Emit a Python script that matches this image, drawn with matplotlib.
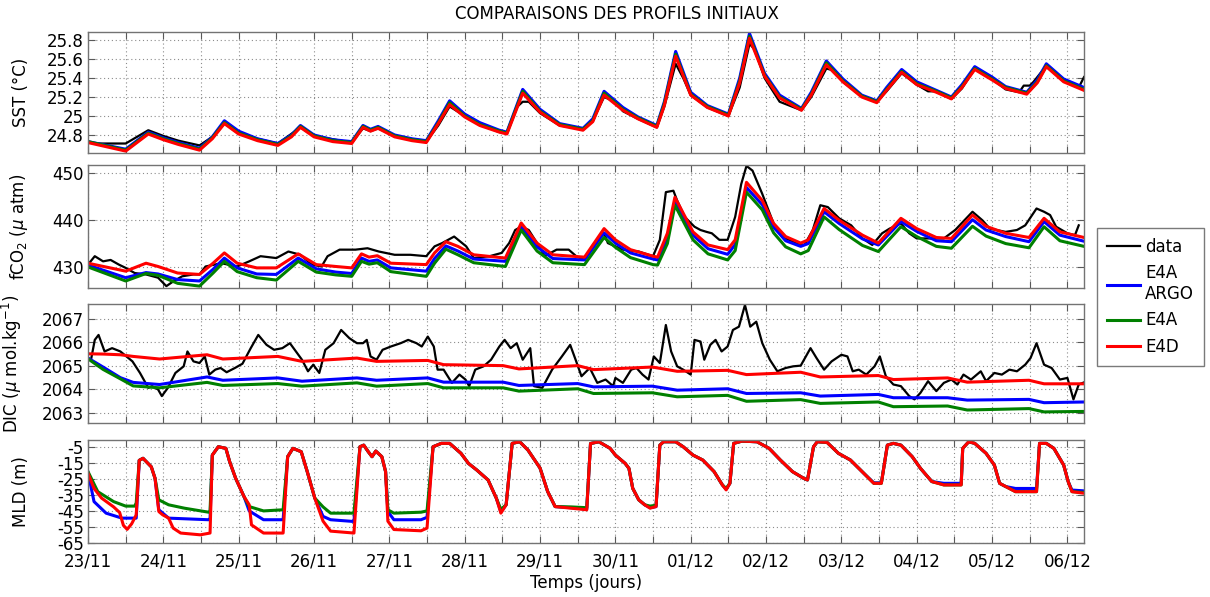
import numpy as np
import matplotlib.pyplot as plt

plt.rcParams['font.family'] = ['DejaVu Sans']
plt.rcParams['mathtext.fontset'] = 'dejavusans'

# ---- time axis (days since 23/11 00:00) ----
day_labels = ['23/11', '24/11', '25/11', '26/11', '27/11', '28/11', '29/11',
              '30/11', '01/12', '02/12', '03/12', '04/12', '05/12', '06/12']

# ---- SST (deg C) ----
sst_model_days = [0, 0.5, 0.8, 1.0, 1.2, 1.48, 1.65, 1.81, 2.0, 2.25,
                  2.52, 2.7, 2.82, 3.0, 3.25, 3.5, 3.65, 3.75, 3.85, 4.07,
                  4.3, 4.49, 4.65, 4.8, 5.0, 5.2, 5.46, 5.56, 5.77, 6.0,
                  6.26, 6.57, 6.7, 6.85, 7.1, 7.3, 7.55, 7.65, 7.8, 8.0,
                  8.22, 8.5, 8.65, 8.78, 8.98, 9.18, 9.47, 9.6, 9.8, 10.02,
                  10.27, 10.47, 10.6, 10.8, 11.0, 11.26, 11.46, 11.6, 11.77, 12.0,
                  12.18, 12.46, 12.6, 12.72, 12.95, 13.22]
sst_argo = [24.73, 24.65, 24.83, 24.77, 24.72, 24.66, 24.78, 24.95, 24.84, 24.76,
            24.71, 24.80, 24.90, 24.80, 24.75, 24.73, 24.90, 24.86, 24.89, 24.80,
            24.76, 24.74, 24.95, 25.16, 25.02, 24.93, 24.85, 24.83, 25.28, 25.07,
            24.92, 24.87, 24.97, 25.26, 25.09, 24.99, 24.90, 25.15, 25.68, 25.25,
            25.11, 25.02, 25.40, 25.87, 25.45, 25.22, 25.08, 25.25, 25.58, 25.39,
            25.22, 25.16, 25.30, 25.49, 25.36, 25.27, 25.20, 25.33, 25.52, 25.41,
            25.31, 25.25, 25.38, 25.55, 25.39, 25.30]
sst_e4a = [24.73, 24.64, 24.82, 24.76, 24.71, 24.65, 24.77, 24.93, 24.82, 24.75,
           24.70, 24.79, 24.89, 24.79, 24.74, 24.72, 24.89, 24.85, 24.88, 24.79,
           24.75, 24.73, 24.93, 25.14, 25.00, 24.91, 24.84, 24.82, 25.26, 25.05,
           24.91, 24.86, 24.95, 25.24, 25.07, 24.98, 24.89, 25.13, 25.65, 25.23,
           25.10, 25.01, 25.37, 25.84, 25.43, 25.20, 25.07, 25.23, 25.56, 25.37,
           25.21, 25.15, 25.28, 25.47, 25.34, 25.26, 25.19, 25.31, 25.50, 25.39,
           25.30, 25.24, 25.36, 25.53, 25.37, 25.28]
sst_e4d = [24.72, 24.63, 24.81, 24.75, 24.70, 24.64, 24.76, 24.92, 24.81, 24.74,
           24.69, 24.78, 24.88, 24.78, 24.73, 24.71, 24.88, 24.84, 24.87, 24.78,
           24.74, 24.72, 24.92, 25.12, 24.99, 24.90, 24.83, 24.81, 25.24, 25.04,
           24.90, 24.85, 24.94, 25.22, 25.06, 24.97, 24.88, 25.11, 25.63, 25.22,
           25.09, 25.00, 25.35, 25.82, 25.42, 25.19, 25.06, 25.22, 25.54, 25.36,
           25.20, 25.14, 25.27, 25.46, 25.33, 25.25, 25.18, 25.30, 25.49, 25.38,
           25.29, 25.23, 25.35, 25.52, 25.36, 25.27]
sst_data = [(0, 24.73), (0.1, 24.71), (0.5, 24.71), (0.65, 24.78), (0.8, 24.85),
            (1.0, 24.79), (1.2, 24.74), (1.48, 24.69), (1.65, 24.78), (1.81, 24.93),
            (2.0, 24.83), (2.25, 24.76), (2.52, 24.71), (2.82, 24.88), (3.0, 24.79),
            (3.5, 24.72), (3.65, 24.87), (3.75, 24.84), (3.85, 24.87), (4.07, 24.79),
            (4.49, 24.73), (4.65, 24.90), (4.8, 25.10), (5.0, 25.00), (5.2, 24.91),
            (5.46, 24.83), (5.56, 24.82), (5.7, 25.10), (5.77, 25.15), (5.85, 25.15),
            (6.0, 25.03), (6.26, 24.90), (6.57, 24.86), (6.7, 24.95), (6.85, 25.20),
            (7.0, 25.15), (7.1, 25.05), (7.3, 24.97), (7.55, 24.88), (7.65, 25.10),
            (7.8, 25.55), (7.9, 25.40), (8.0, 25.22), (8.22, 25.09), (8.5, 25.00),
            (8.65, 25.30), (8.78, 25.76), (8.85, 25.70), (8.98, 25.40), (9.18, 25.15),
            (9.47, 25.06), (9.6, 25.20), (9.8, 25.50), (9.9, 25.48), (10.02, 25.36),
            (10.27, 25.21), (10.47, 25.15), (10.6, 25.26), (10.8, 25.45), (11.0, 25.33),
            (11.15, 25.26), (11.26, 25.26), (11.46, 25.18), (11.6, 25.29), (11.77, 25.50),
            (12.0, 25.39), (12.18, 25.28), (12.36, 25.25), (12.42, 25.32), (12.5, 25.32),
            (12.55, 25.36), (12.72, 25.53), (12.95, 25.38), (13.15, 25.30), (13.22, 25.41)]

# ---- fCO2 (uatm) ----
fco2_model_days = [0, 0.5, 0.77, 0.93, 1.19, 1.48, 1.66, 1.81, 1.98, 2.24,
                   2.5, 2.79, 3.03, 3.29, 3.5, 3.63, 3.73, 3.84, 4.02, 4.49,
                   4.6, 4.75, 4.91, 5.12, 5.54, 5.75, 5.96, 6.17, 6.59, 6.85,
                   7.0, 7.2, 7.5, 7.56, 7.69, 7.79, 8.03, 8.23, 8.49, 8.59,
                   8.74, 8.95, 9.1, 9.26, 9.46, 9.56, 9.77, 9.97, 10.28, 10.49,
                   10.79, 11.0, 11.26, 11.46, 11.74, 11.92, 12.18, 12.49, 12.69, 12.9,
                   13.22]
fco2_argo = [430.4, 427.7, 428.8, 428.5, 427.3, 427.0, 429.5, 431.9, 429.8, 428.5,
             428.4, 431.9, 429.6, 428.9, 428.6, 431.9, 431.2, 431.5, 429.8, 429.1,
             431.8, 434.5, 433.4, 431.7, 431.2, 438.7, 434.3, 431.8, 431.5, 437.3,
             435.1, 433.0, 431.7, 431.5, 436.0, 443.9, 436.8, 433.9, 432.7, 434.8,
             447.0, 443.3, 438.5, 435.6, 434.4, 435.0, 441.8, 439.3, 436.0, 434.7,
             439.7, 437.6, 435.6, 435.4, 440.1, 437.9, 436.5, 435.4, 439.7, 436.8,
             435.5]
fco2_e4a = [430.0, 427.0, 428.6, 428.2, 426.5, 425.9, 428.7, 431.2, 429.0, 427.7,
            427.2, 431.2, 428.9, 428.3, 428.0, 431.2, 430.6, 430.9, 429.0, 428.0,
            430.8, 433.8, 432.6, 430.9, 430.1, 437.9, 433.4, 430.9, 430.5, 436.3,
            434.2, 432.0, 430.5, 430.4, 435.0, 443.2, 435.8, 432.8, 431.5, 433.5,
            446.0, 442.2, 437.3, 434.3, 432.8, 433.5, 440.7, 438.0, 434.6, 433.3,
            438.6, 436.5, 434.4, 434.0, 438.7, 436.6, 435.0, 434.1, 438.6, 435.6,
            434.4]
fco2_e4d = [430.8, 429.1, 430.8, 430.1, 428.7, 428.4, 430.8, 433.0, 430.8, 429.8,
            429.8, 432.8, 430.5, 430.1, 429.8, 432.8, 432.1, 432.4, 430.8, 430.5,
            433.0, 435.4, 434.4, 432.6, 431.9, 439.4, 435.1, 432.6, 432.1, 438.2,
            435.8, 433.7, 432.3, 432.1, 437.2, 444.9, 437.5, 434.7, 433.7, 435.8,
            448.1, 444.2, 439.3, 436.5, 435.1, 435.8, 442.5, 440.0, 436.8, 435.1,
            440.4, 438.2, 436.3, 436.1, 441.1, 438.7, 437.2, 436.3, 440.4, 437.5,
            436.3]
fco2_data = [(0.0, 430.5), (0.09, 432.3), (0.2, 431.2), (0.3, 431.5), (0.41, 430.5),
             (0.5, 429.8), (0.62, 428.7), (0.77, 428.4), (0.93, 427.7), (1.04, 425.9),
             (1.14, 427.0), (1.25, 428.0), (1.4, 428.4), (1.48, 428.4), (1.56, 430.1),
             (1.77, 430.8), (1.98, 430.1), (2.14, 431.2), (2.29, 432.3), (2.5, 431.9),
             (2.66, 433.3), (2.82, 432.6), (2.97, 430.5), (3.1, 430.1), (3.18, 432.3),
             (3.34, 433.7), (3.55, 433.7), (3.71, 434.0), (3.86, 433.3), (4.07, 432.6),
             (4.28, 432.6), (4.49, 432.3), (4.6, 434.4), (4.7, 435.1), (4.86, 436.5),
             (5.02, 434.4), (5.12, 431.9), (5.33, 432.3), (5.49, 433.0), (5.59, 435.1),
             (5.67, 437.9), (5.75, 438.6), (5.85, 437.9), (5.96, 435.1), (6.06, 432.3),
             (6.22, 433.7), (6.38, 433.7), (6.48, 432.3), (6.59, 431.5), (6.69, 434.4),
             (6.85, 437.2), (6.9, 435.1), (7.1, 433.7), (7.31, 433.3), (7.5, 432.3),
             (7.59, 435.8), (7.67, 446.0), (7.77, 446.3), (7.82, 444.2), (7.92, 440.7),
             (8.05, 438.6), (8.13, 437.9), (8.21, 437.5), (8.28, 437.2), (8.38, 435.8),
             (8.49, 435.8), (8.59, 440.7), (8.67, 447.7), (8.74, 451.6), (8.82, 450.6),
             (8.95, 445.6), (9.1, 439.3), (9.26, 436.1), (9.41, 435.1), (9.51, 434.7),
             (9.62, 437.9), (9.72, 443.2), (9.82, 442.8), (9.97, 440.4), (10.13, 438.9),
             (10.28, 436.1), (10.41, 434.7), (10.54, 437.2), (10.64, 438.2), (10.79, 439.3),
             (10.9, 437.2), (11.0, 436.1), (11.21, 436.1), (11.36, 436.1), (11.51, 437.9),
             (11.74, 441.8), (11.87, 440.0), (11.97, 438.2), (12.18, 437.5), (12.33, 437.9),
             (12.44, 438.9), (12.59, 442.5), (12.69, 441.8), (12.77, 441.1), (12.85, 438.6),
             (13.0, 437.2), (13.1, 436.8), (13.15, 438.9)]

# ---- DIC (umol/kg) ----
dic_model_days = [0, 0.2, 0.43, 0.6, 0.95, 1.58, 1.79, 2.52, 2.84, 3.57,
                  3.83, 4.51, 4.72, 5.51, 5.72, 6.5, 6.71, 7.49, 7.82, 8.49,
                  8.74, 9.46, 9.72, 10.49, 10.69, 11.41, 11.67, 12.49, 12.69, 13.22]
dic_argo = [2065.33, 2064.95, 2064.50, 2064.30, 2064.21, 2064.53, 2064.39, 2064.49, 2064.35, 2064.49,
            2064.39, 2064.49, 2064.31, 2064.31, 2064.17, 2064.25, 2064.11, 2064.14, 2063.97, 2064.03,
            2063.83, 2063.86, 2063.72, 2063.79, 2063.65, 2063.65, 2063.55, 2063.58, 2063.44, 2063.47]
dic_e4a = [2065.30, 2064.85, 2064.45, 2064.15, 2064.07, 2064.30, 2064.17, 2064.25, 2064.14, 2064.28,
           2064.14, 2064.25, 2064.07, 2064.07, 2063.93, 2064.03, 2063.83, 2063.86, 2063.69, 2063.75,
           2063.50, 2063.57, 2063.41, 2063.47, 2063.27, 2063.30, 2063.13, 2063.19, 2063.05, 2063.07]
dic_e4d = [2065.51, 2065.50, 2065.47, 2065.40, 2065.29, 2065.47, 2065.29, 2065.40, 2065.19, 2065.33,
           2065.19, 2065.23, 2065.05, 2065.01, 2064.87, 2065.01, 2064.84, 2064.95, 2064.77, 2064.81,
           2064.63, 2064.73, 2064.53, 2064.59, 2064.42, 2064.49, 2064.31, 2064.39, 2064.24, 2064.24]
dic_data = [(0.0, 2065.33), (0.04, 2065.26), (0.09, 2066.10), (0.14, 2066.31), (0.22, 2065.61),
            (0.32, 2065.75), (0.43, 2065.61), (0.51, 2065.40), (0.59, 2065.19), (0.69, 2064.70),
            (0.8, 2064.07), (0.85, 2064.14), (0.93, 2064.00), (0.98, 2063.72), (1.06, 2064.07),
            (1.16, 2064.70), (1.27, 2064.98), (1.32, 2065.61), (1.4, 2065.19), (1.48, 2065.12),
            (1.55, 2065.40), (1.61, 2064.63), (1.69, 2064.84), (1.76, 2064.91), (1.84, 2064.73),
            (1.95, 2064.91), (2.05, 2065.09), (2.16, 2065.75), (2.26, 2066.31), (2.37, 2065.89),
            (2.47, 2065.68), (2.58, 2065.75), (2.68, 2065.96), (2.76, 2065.61), (2.84, 2065.26),
            (2.92, 2064.77), (2.99, 2065.05), (3.07, 2064.70), (3.15, 2065.68), (3.26, 2065.96),
            (3.36, 2066.52), (3.47, 2066.17), (3.57, 2065.96), (3.65, 2065.96), (3.7, 2066.10),
            (3.75, 2065.40), (3.83, 2065.26), (3.91, 2065.68), (4.02, 2065.82), (4.15, 2065.96),
            (4.25, 2066.10), (4.36, 2065.96), (4.43, 2065.82), (4.51, 2066.24), (4.59, 2065.82),
            (4.64, 2064.84), (4.72, 2064.84), (4.83, 2064.28), (4.93, 2064.63), (5.01, 2064.42),
            (5.06, 2064.14), (5.14, 2064.84), (5.25, 2064.98), (5.35, 2065.26), (5.46, 2065.82),
            (5.53, 2066.10), (5.61, 2065.75), (5.69, 2065.96), (5.77, 2065.26), (5.87, 2065.75),
            (5.92, 2064.14), (6.03, 2064.07), (6.16, 2064.84), (6.29, 2065.40), (6.4, 2065.89),
            (6.48, 2065.19), (6.55, 2064.56), (6.66, 2064.91), (6.76, 2064.28), (6.87, 2064.42),
            (6.97, 2064.14), (7.0, 2064.49), (7.1, 2064.28), (7.21, 2064.84), (7.28, 2064.91),
            (7.36, 2064.63), (7.44, 2064.42), (7.51, 2065.40), (7.59, 2065.12), (7.67, 2066.73),
            (7.74, 2065.61), (7.82, 2064.98), (7.9, 2064.84), (8.0, 2064.63), (8.05, 2066.10),
            (8.13, 2066.03), (8.18, 2065.26), (8.26, 2065.89), (8.33, 2066.10), (8.41, 2065.61),
            (8.49, 2065.82), (8.56, 2066.52), (8.64, 2066.66), (8.72, 2067.58), (8.79, 2066.66),
            (8.87, 2066.87), (8.95, 2065.96), (9.05, 2065.26), (9.15, 2064.77), (9.26, 2064.91),
            (9.36, 2064.98), (9.46, 2065.01), (9.59, 2065.75), (9.67, 2065.33), (9.77, 2064.84),
            (9.87, 2065.19), (10.0, 2065.47), (10.08, 2065.40), (10.15, 2064.77), (10.23, 2064.84),
            (10.33, 2064.63), (10.44, 2064.98), (10.51, 2065.40), (10.59, 2064.56), (10.69, 2064.21),
            (10.79, 2064.14), (10.9, 2063.72), (10.97, 2063.58), (11.05, 2063.86), (11.15, 2064.35),
            (11.26, 2063.93), (11.36, 2064.28), (11.46, 2064.42), (11.54, 2064.21), (11.62, 2064.63),
            (11.72, 2064.42), (11.85, 2064.77), (11.92, 2064.35), (12.03, 2064.70), (12.13, 2064.63),
            (12.23, 2064.84), (12.33, 2064.77), (12.44, 2065.05), (12.51, 2065.33), (12.59, 2065.96),
            (12.69, 2065.05), (12.79, 2064.91), (12.9, 2064.42), (13.0, 2064.49), (13.08, 2063.58),
            (13.15, 2064.21), (13.22, 2064.30)]

# ---- MLD (m) ----
mld_e4d = [(0.00, -21.6), (0.08, -31), (0.18, -37), (0.34, -42.5), (0.42, -46), (0.47, -54),
           (0.52, -56.5), (0.58, -53), (0.64, -47.5), (0.68, -13.5), (0.73, -12.2), (0.84, -17.5),
           (0.89, -24.7), (0.94, -45.4), (0.99, -47.4), (1.07, -49.5), (1.13, -55.7), (1.23, -58.8),
           (1.49, -59.9), (1.62, -58.8), (1.65, -10.2), (1.73, -5.0), (1.83, -6.0), (1.88, -14.3),
           (1.96, -24.7), (2.07, -36.0), (2.14, -41.2), (2.17, -53.7), (2.33, -58.8), (2.59, -58.8),
           (2.65, -11.2), (2.72, -6.0), (2.83, -8.1), (2.91, -20.5), (3.01, -37.0), (3.12, -51.4),
           (3.22, -57.6), (3.53, -58.8), (3.61, -5.0), (3.66, -4.0), (3.72, -8.1), (3.77, -11.2),
           (3.82, -7.7), (3.90, -11.2), (3.95, -20.5), (3.98, -51.4), (4.06, -56.6), (4.42, -57.4),
           (4.50, -55.7), (4.58, -5.0), (4.69, -2.9), (4.80, -2.9), (4.95, -9.1), (5.05, -15.4),
           (5.16, -19.5), (5.31, -25.7), (5.42, -37.1), (5.48, -46.4), (5.55, -41.2), (5.63, -2.9),
           (5.73, -1.9), (5.84, -7.1), (6.00, -18.3), (6.10, -32.8), (6.20, -42.3), (6.41, -43.3),
           (6.62, -44.3), (6.67, -3.0), (6.78, -1.9), (6.93, -6.0), (7.00, -10.2), (7.13, -15.4),
           (7.18, -18.5), (7.23, -30.9), (7.31, -38.1), (7.39, -41.2), (7.46, -43.3), (7.54, -42.3),
           (7.59, -4.0), (7.64, -1.9), (7.80, -1.9), (7.90, -5.0), (8.03, -10.2), (8.16, -13.3),
           (8.31, -20.5), (8.42, -28.8), (8.47, -31.9), (8.52, -27.8), (8.57, -2.9), (8.68, -1.5),
           (8.88, -1.9), (9.04, -6.0), (9.19, -13.3), (9.35, -20.5), (9.50, -24.7), (9.55, -25.7),
           (9.63, -5.0), (9.68, -1.9), (9.81, -2.3), (9.96, -9.1), (10.12, -13.3), (10.32, -22.6),
           (10.43, -27.8), (10.53, -27.8), (10.61, -4.0), (10.69, -2.9), (10.79, -4.0), (10.94, -11.2),
           (11.05, -18.5), (11.20, -26.7), (11.36, -28.8), (11.59, -28.8), (11.61, -6.0), (11.69, -1.9),
           (11.77, -2.9), (11.92, -9.1), (12.03, -16.4), (12.10, -27.8), (12.18, -29.8), (12.31, -33.0),
           (12.59, -33.0), (12.63, -2.9), (12.72, -2.9), (12.82, -6.0), (12.95, -16.4), (13.01, -26.7),
           (13.06, -33.0), (13.22, -34.0)]
mld_e4a = [(0.00, -20.5), (0.13, -33), (0.34, -39.2), (0.50, -42), (0.62, -42), (0.64, -40),
           (0.68, -13.5), (0.73, -12.2), (0.84, -17.5), (0.89, -24.7), (0.94, -38.1), (1.07, -41.2),
           (1.28, -43.3), (1.60, -45.8), (1.62, -45.0), (1.65, -10.2), (1.73, -5.0), (1.83, -6.0),
           (1.88, -14.3), (1.96, -24.7), (2.07, -36.0), (2.14, -42.3), (2.33, -45.0), (2.59, -44.3),
           (2.65, -11.2), (2.72, -6.0), (2.83, -8.1), (2.91, -20.5), (3.01, -37.0), (3.12, -42.5),
           (3.22, -46.4), (3.53, -46.4), (3.61, -5.0), (3.66, -4.0), (3.72, -8.1), (3.77, -11.2),
           (3.82, -7.7), (3.90, -11.2), (3.95, -20.5), (3.98, -44.3), (4.06, -46.4), (4.42, -45.8),
           (4.50, -45.0), (4.58, -5.0), (4.69, -2.9), (4.80, -2.9), (4.95, -9.1), (5.05, -15.4),
           (5.16, -19.5), (5.31, -25.7), (5.42, -37.1), (5.48, -44.0), (5.55, -41.2), (5.63, -2.9),
           (5.73, -1.9), (5.84, -7.1), (6.00, -18.3), (6.10, -32.8), (6.20, -42.3), (6.41, -42.5),
           (6.62, -43.0), (6.67, -3.0), (6.78, -1.9), (6.93, -6.0), (7.00, -10.2), (7.13, -15.4),
           (7.18, -18.5), (7.23, -30.9), (7.31, -38.1), (7.39, -41.2), (7.46, -42.0), (7.54, -41.5),
           (7.59, -4.0), (7.64, -1.9), (7.80, -1.9), (7.90, -5.0), (8.03, -10.2), (8.16, -13.3),
           (8.31, -20.5), (8.42, -28.8), (8.47, -31.0), (8.52, -27.8), (8.57, -2.9), (8.68, -1.5),
           (8.88, -1.9), (9.04, -6.0), (9.19, -13.3), (9.35, -20.5), (9.50, -24.7), (9.55, -25.7),
           (9.63, -5.0), (9.68, -1.9), (9.81, -2.3), (9.96, -9.1), (10.12, -13.3), (10.32, -22.6),
           (10.43, -27.8), (10.53, -27.8), (10.61, -4.0), (10.69, -2.9), (10.79, -4.0), (10.94, -11.2),
           (11.05, -18.5), (11.20, -26.7), (11.36, -28.8), (11.59, -28.8), (11.61, -6.0), (11.69, -1.9),
           (11.77, -2.9), (11.92, -9.1), (12.03, -16.4), (12.10, -27.8), (12.18, -29.8), (12.31, -33.0),
           (12.59, -33.0), (12.63, -2.9), (12.72, -2.9), (12.82, -6.0), (12.95, -16.4), (13.01, -26.7),
           (13.06, -33.0), (13.22, -33.5)]
mld_argo = [(0.00, -21.0), (0.08, -39.2), (0.24, -46.4), (0.45, -49.5), (0.64, -49.5),
            (0.68, -13.5), (0.73, -12.2), (0.84, -17.5), (0.89, -24.7), (0.94, -44.3), (1.07, -49.5),
            (1.60, -50.5), (1.62, -50.0), (1.65, -10.2), (1.73, -5.0), (1.83, -6.0), (1.88, -14.3),
            (1.96, -24.7), (2.07, -36.0), (2.14, -45.0), (2.33, -50.5), (2.59, -50.5), (2.65, -11.2),
            (2.72, -6.0), (2.83, -8.1), (2.91, -20.5), (3.01, -37.0), (3.12, -48.4), (3.22, -50.5),
            (3.53, -51.6), (3.61, -5.0), (3.66, -4.0), (3.72, -8.1), (3.77, -11.2), (3.82, -7.7),
            (3.90, -11.2), (3.95, -20.5), (3.98, -45.4), (4.06, -50.5), (4.42, -50.5), (4.50, -49.0),
            (4.58, -5.0), (4.69, -2.9), (4.80, -2.9), (4.95, -9.1), (5.05, -15.4), (5.16, -19.5),
            (5.31, -25.7), (5.42, -37.1), (5.48, -45.5), (5.55, -41.2), (5.63, -2.9), (5.73, -1.9),
            (5.84, -7.1), (6.00, -18.3), (6.10, -32.8), (6.20, -42.3), (6.41, -43.0), (6.62, -43.8),
            (6.67, -3.0), (6.78, -1.9), (6.93, -6.0), (7.00, -10.2), (7.13, -15.4), (7.18, -18.5),
            (7.23, -30.9), (7.31, -38.1), (7.39, -41.2), (7.46, -43.0), (7.54, -42.3), (7.59, -4.0),
            (7.64, -1.9), (7.80, -1.9), (7.90, -5.0), (8.03, -10.2), (8.16, -13.3), (8.31, -20.5),
            (8.42, -28.8), (8.47, -31.5), (8.52, -27.8), (8.57, -2.9), (8.68, -1.5), (8.88, -1.9),
            (9.04, -6.0), (9.19, -13.3), (9.35, -20.5), (9.50, -24.7), (9.55, -25.7), (9.63, -5.0),
            (9.68, -1.9), (9.81, -2.3), (9.96, -9.1), (10.12, -13.3), (10.32, -22.6), (10.43, -27.5),
            (10.53, -27.5), (10.61, -4.0), (10.69, -2.9), (10.79, -4.0), (10.94, -11.2), (11.05, -18.5),
            (11.20, -26.7), (11.36, -27.8), (11.59, -27.8), (11.61, -6.0), (11.69, -1.9), (11.77, -2.9),
            (11.92, -9.1), (12.03, -16.4), (12.10, -27.8), (12.18, -29.8), (12.31, -31.0), (12.59, -31.0),
            (12.63, -2.9), (12.72, -2.9), (12.82, -6.0), (12.95, -16.4), (13.01, -26.7), (13.06, -32.0),
            (13.22, -32.5)]

# ---- styling ----
C_DATA, C_ARGO, C_E4A, C_E4D = 'black', '#0000ff', '#008000', '#ff0000'
W, H = 1210, 597
X0, X1 = 88, 1084
XMAX = 13.22

fig = plt.figure(figsize=(W / 100, H / 100), dpi=100)


def make_axes(top, bottom):
    ax = fig.add_axes([X0 / W, 1 - bottom / H, (X1 - X0) / W, (bottom - top) / H])
    ax.set_xlim(0, XMAX)
    ax.set_xticks(np.arange(0, 13.01, 0.5))
    ax.set_xticklabels([])
    ax.tick_params(direction='in', length=5, top=True, right=True,
                   labelsize=12, color='0.35', pad=3)
    ax.tick_params(axis='x', pad=7)
    ax.grid(True, linestyle=(0, (1, 2.5)), color='0.55', linewidth=0.8)
    for s in ax.spines.values():
        s.set_color('0.45')
        s.set_linewidth(1.0)
    return ax


def unzip(points):
    t, v = zip(*points)
    return np.array(t), np.array(v)


lw_model = 2.2
lw_data = 1.6

# SST
ax1 = make_axes(32, 153)
t, v = unzip(sst_data)
ax1.plot(t, v, color=C_DATA, lw=lw_data)
ax1.plot(sst_model_days, sst_argo, color=C_ARGO, lw=lw_model)
ax1.plot(sst_model_days, sst_e4a, color=C_E4A, lw=lw_model)
ax1.plot(sst_model_days, sst_e4d, color=C_E4D, lw=lw_model)
ax1.set_ylim(24.61, 25.885)
ax1.set_yticks([24.8, 25.0, 25.2, 25.4, 25.6, 25.8])
ax1.set_yticklabels(['24.8', '25', '25.2', '25.4', '25.6', '25.8'])
ax1.set_ylabel('SST (°C)', fontsize=12)

# fCO2
ax2 = make_axes(165, 288)
t, v = unzip(fco2_data)
h_data, = ax2.plot(t, v, color=C_DATA, lw=lw_data)
h_argo, = ax2.plot(fco2_model_days, fco2_argo, color=C_ARGO, lw=lw_model)
h_e4a, = ax2.plot(fco2_model_days, fco2_e4a, color=C_E4A, lw=lw_model)
h_e4d, = ax2.plot(fco2_model_days, fco2_e4d, color=C_E4D, lw=lw_model)
ax2.set_ylim(425.5, 451.8)
ax2.set_yticks([430, 440, 450])
ax2.set_ylabel(r'fCO$_2$ ($\mu$ atm)', fontsize=12)

# DIC
ax3 = make_axes(304, 423)
t, v = unzip(dic_data)
ax3.plot(t, v, color=C_DATA, lw=lw_data)
ax3.plot(dic_model_days, dic_argo, color=C_ARGO, lw=lw_model)
ax3.plot(dic_model_days, dic_e4a, color=C_E4A, lw=lw_model)
ax3.plot(dic_model_days, dic_e4d, color=C_E4D, lw=lw_model)
ax3.set_ylim(2062.58, 2067.62)
ax3.set_yticks([2063, 2064, 2065, 2066, 2067])
ax3.set_yticklabels(['2063', '2064', '2065', '2066', '2067'])
ax3.set_ylabel(r'DIC ($\mu$ mol.kg$^{-1}$)', fontsize=12)

# MLD
ax4 = make_axes(440, 543)
for pts, c in [(mld_argo, C_ARGO), (mld_e4a, C_E4A), (mld_e4d, C_E4D)]:
    t, v = unzip(pts)
    ax4.plot(t, v, color=c, lw=lw_model)
ax4.set_ylim(-65, -0.8)
mld_ticks = [-65, -55, -45, -35, -25, -15, -5]
ax4.set_yticks(mld_ticks)
ax4.set_yticklabels([str(m) for m in mld_ticks])
ax4.set_ylabel('MLD (m)', fontsize=12)
ax4.set_xticklabels([day_labels[int(d)] if d == int(d) else ''
                     for d in np.arange(0, 13.01, 0.5)])
ax4.set_xlabel('Temps (jours)', fontsize=12, labelpad=2)

for ax in (ax1, ax2, ax3, ax4):
    ax.yaxis.set_label_coords(-0.058, 0.5)
ax3.yaxis.set_label_coords(-0.064, 0.5)

fig.text(617 / W, 1 - 14 / H, 'COMPARAISONS DES PROFILS INITIAUX',
         ha='center', va='center', fontsize=12)

fig.legend([h_data, h_argo, h_e4a, h_e4d], ['data', 'E4A\nARGO', 'E4A', 'E4D'],
           loc='upper left', bbox_to_anchor=(1097 / W, 1 - 228 / H),
           fontsize=12, frameon=True, fancybox=False, edgecolor='0.35',
           handlelength=2.0, handletextpad=0.3, borderaxespad=0,
           borderpad=0.6, labelspacing=0.5)

fig.savefig('out.png', dpi=100)
